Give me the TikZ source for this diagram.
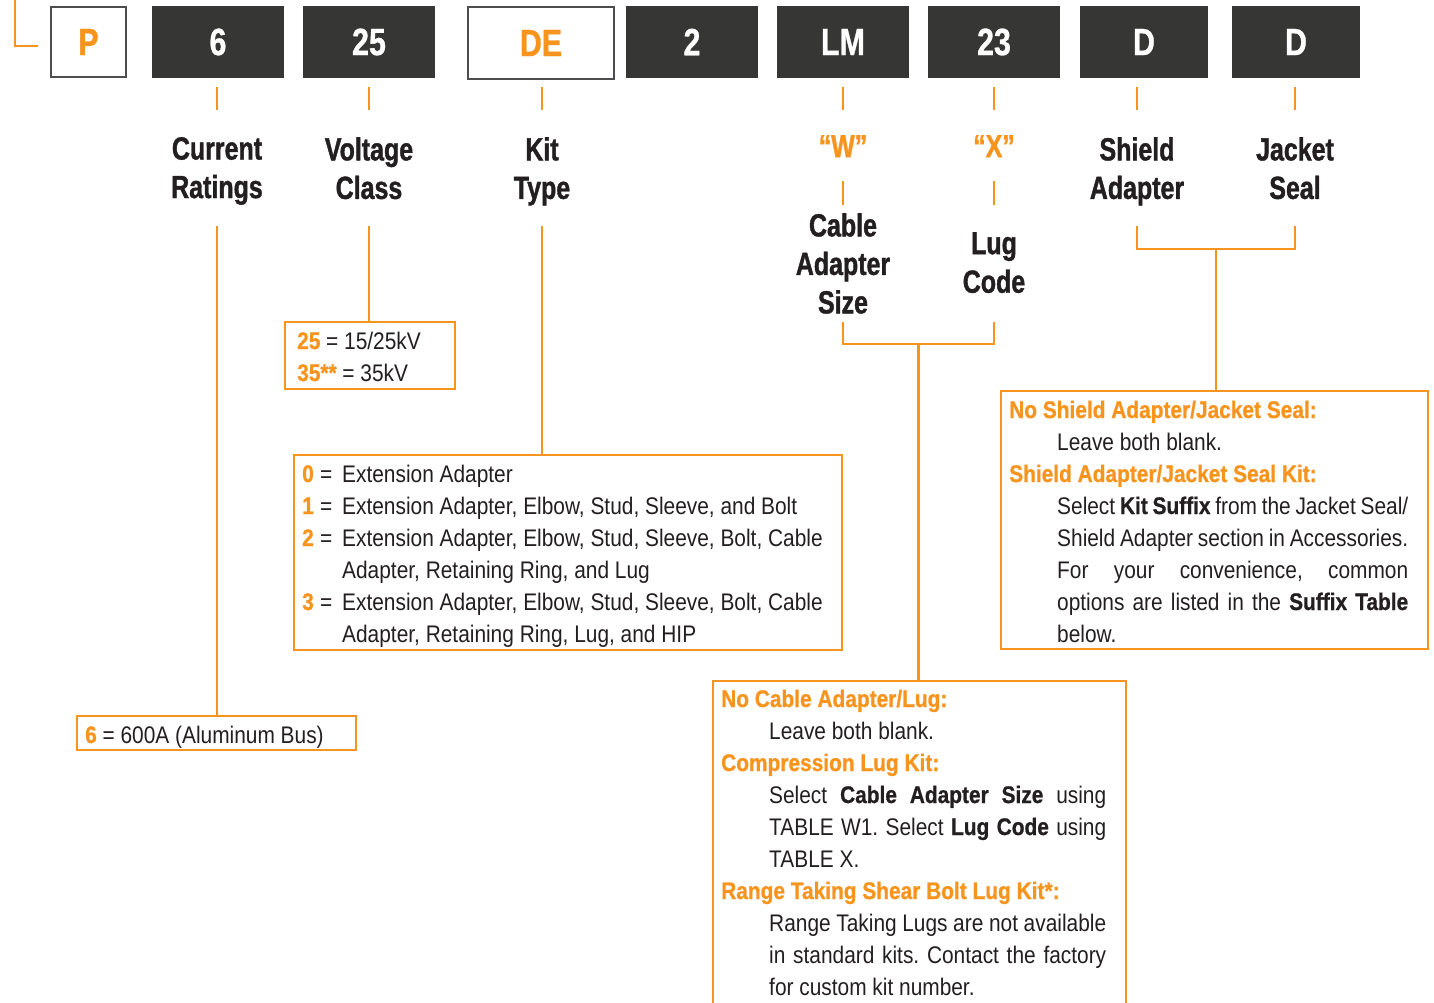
\documentclass[tikz,border=0pt]{standalone}
\usepackage{fontspec}
\setmainfont{Liberation Sans}[FakeStretch=0.87, BoldFeatures={FakeBold=0.8}]
\newfontfamily\titlefont{Liberation Sans}[FakeStretch=0.78, BoldFeatures={FakeBold=1.2}]
\newfontfamily\codefont{Liberation Sans}[FakeStretch=0.8, BoldFeatures={FakeBold=0.8}]
\usetikzlibrary{calc}
\frenchspacing
\definecolor{orng}{HTML}{F7941D}
\definecolor{dk}{HTML}{363634}
\definecolor{txt}{HTML}{231F20}
\definecolor{brd}{HTML}{4D4D4F}
\newcommand\ornum[1]{\textcolor{orng}{\bfseries #1}}
\newcommand\justln[2]{\makebox[#1][s]{#2}}
\tikzset{
  cbox/.style={fill=dk, draw=none, minimum width=132pt, minimum height=72pt, inner sep=0pt,
    text=white, font=\codefont\bfseries\fontsize{38}{40}\selectfont},
  wbox/.style={fill=white, draw=brd, line width=2pt, inner sep=0pt,
    text=orng, font=\codefont\bfseries\fontsize{38}{40}\selectfont},
  ttl/.style={anchor=north, align=center, inner sep=0pt, text=txt,
    font=\titlefont\bfseries\fontsize{32}{38.5}\selectfont},
  link/.style={draw=orng, line width=2.5pt},
  obox/.style={draw=orng, line width=2.5pt, inner sep=0pt},
  body/.style={anchor=base west, inner sep=0pt, text=txt, font=\frenchspacing\fontsize{24}{32}\selectfont},
  head/.style={body, text=orng, font=\bfseries\fontsize{24}{32}\selectfont},
}
\begin{document}
\begin{tikzpicture}[x=1pt, y=-1pt]
\useasboundingbox (0,0) rectangle (1434,1002);
\clip (0,0) rectangle (1434,1002);
\fill[white] (0,0) rectangle (1434,1002);

% code boxes
\node[wbox, minimum width=75pt, minimum height=70pt] (cP) at (88.5,42) {P};
\node[cbox] (c6) at (218,42) {6};
\node[cbox] (c25) at (369,42) {25};
\node[wbox, minimum width=146pt, minimum height=72pt] (cDE) at (541,43) {DE};
\node[cbox] (c2) at (692,42) {2};
\node[cbox] (cLM) at (843,42) {LM};
\node[cbox] (c23) at (994,42) {23};
\node[cbox, minimum width=128pt] (cD1) at (1144,42) {D};
\node[cbox, minimum width=128pt] (cD2) at (1296,42) {D};

% top-left corner mark
\coordinate (Ltop) at (15,-3);
\coordinate (Lend) at (38,46);
\draw[link] (Ltop) |- (Lend);

% titles
\node[ttl] (tCur) at (217,137) {Current\\Ratings};
\node[ttl] (tVol) at (369,137) {Voltage\\Class};
\node[ttl] (tKit) at (542,137) {Kit\\Type};
\node[ttl, text=orng] (tW) at (843,135) {“W”};
\node[ttl, text=orng] (tX) at (994,135) {“X”};
\node[ttl] (tShl) at (1137,137) {Shield\\Adapter};
\node[ttl] (tJac) at (1295,137) {Jacket\\Seal};
\node[ttl] (tCas) at (843,213) {Cable\\Adapter\\Size};
\node[ttl] (tLug) at (994,232) {Lug\\Code};

% ticks under code boxes
\foreach \t in {tCur,tVol,tKit,tW,tX,tShl,tJac}{
  \draw[link] (\t.north |- 0,87) -- (\t.north |- 0,110);
}
\draw[link] (tW.south |- 0,181) -- (tW.south |- 0,205);
\draw[link] (tX.south |- 0,181) -- (tX.south |- 0,205);

% option boxes
\node[obox, minimum width=279pt, minimum height=34pt] (bCur) at (216.5,733) {};
\node[obox, minimum width=170pt, minimum height=67pt] (bVol) at (370,355.5) {};
\node[obox, minimum width=548pt, minimum height=195pt] (bKit) at (568,552.5) {};
\node[obox, minimum width=427pt, minimum height=258pt] (bShl) at (1214.5,520) {};
\node[obox, minimum width=413pt, minimum height=349pt] (bCab) at (919.5,855.5) {};

% connectors
\draw[link] (tCur.south |- 0,226) -- (tCur.south |- bCur.north);
\draw[link] (tVol.south |- 0,226) -- (tVol.south |- bVol.north);
\draw[link] (tKit.south |- 0,226) -- (tKit.south |- bKit.north);
\draw[link] (tCas.south |- 0,322) -- (tCas.south |- 0,344) -| (tLug.south |- 0,322);
\coordinate (jW) at ($(tCas.south |- 0,344)!0.5!(tLug.south |- 0,344)$);
\draw[link] (jW) -- (jW |- bCab.north);
\draw[link] (tShl.south |- 0,226) -- (tShl.south |- 0,249) -| (tJac.south |- 0,226);
\coordinate (jS) at ($(tShl.south |- 0,249)!0.5!(tJac.south |- 0,249)$);
\draw[link] (jS) -- (jS |- bShl.north);

% current box
\node[body] (cu1) at (85,743) {\ornum{6} = 600A (Aluminum Bus)};

% voltage box
\node[body] (v1) at (297,349) {\ornum{25} = 15/25kV};
\node[body] (v2) at (297,381) {\ornum{35**} = 35kV};

% kit box
\foreach \n/\y in {0/482,1/514,2/546,3/610}{
  \node[body] (kn\n) at (302,\y) {\ornum{\n}};
  \node[body] (ke\n) at (320,\y) {=};
}
\node[body] (k0) at (342,482) {Extension Adapter};
\node[body] (k1) at (342,514) {Extension Adapter, Elbow, Stud, Sleeve, and Bolt};
\node[body] (k2) at (342,546) {Extension Adapter, Elbow, Stud, Sleeve, Bolt, Cable};
\node[body] (k2b) at (342,578) {Adapter, Retaining Ring, and Lug};
\node[body] (k3) at (342,610) {Extension Adapter, Elbow, Stud, Sleeve, Bolt, Cable};
\node[body] (k3b) at (342,642) {Adapter, Retaining Ring, Lug, and HIP};

% shield box
\node[head] (s1) at (1009,418) {No Shield Adapter/Jacket Seal:};
\node[body] (s2) at (1057,450) {Leave both blank.};
\node[head] (s3) at (1009,482) {Shield Adapter/Jacket Seal Kit:};
\node[body] (s4) at (1057,514) {\justln{351pt}{Select \textbf{Kit Suffix} from the Jacket Seal/}};
\node[body] (s5) at (1057,546) {\justln{351pt}{Shield Adapter section in Accessories.}};
\node[body] (s6) at (1057,578) {\justln{351pt}{For your convenience, common}};
\node[body] (s7) at (1057,610) {\justln{351pt}{options are listed in the \textbf{Suffix Table}}};
\node[body] (s8) at (1057,642) {below.};

% cable box
\node[head] (a1) at (721,707) {No Cable Adapter/Lug:};
\node[body] (a2) at (769,739) {Leave both blank.};
\node[head] (a3) at (721,771) {Compression Lug Kit:};
\node[body] (a4) at (769,803) {\justln{337pt}{Select \textbf{Cable Adapter Size} using}};
\node[body] (a5) at (769,835) {\justln{337pt}{TABLE W1. Select \textbf{Lug Code} using}};
\node[body] (a6) at (769,867) {TABLE X.};
\node[head] (a7) at (721,899) {Range Taking Shear Bolt Lug Kit*:};
\node[body] (a8) at (769,931) {\justln{337pt}{Range Taking Lugs are not available}};
\node[body] (a9) at (769,963) {\justln{337pt}{in standard kits. Contact the factory}};
\node[body] (a10) at (769,995) {for custom kit number.};
\end{tikzpicture}
\end{document}
